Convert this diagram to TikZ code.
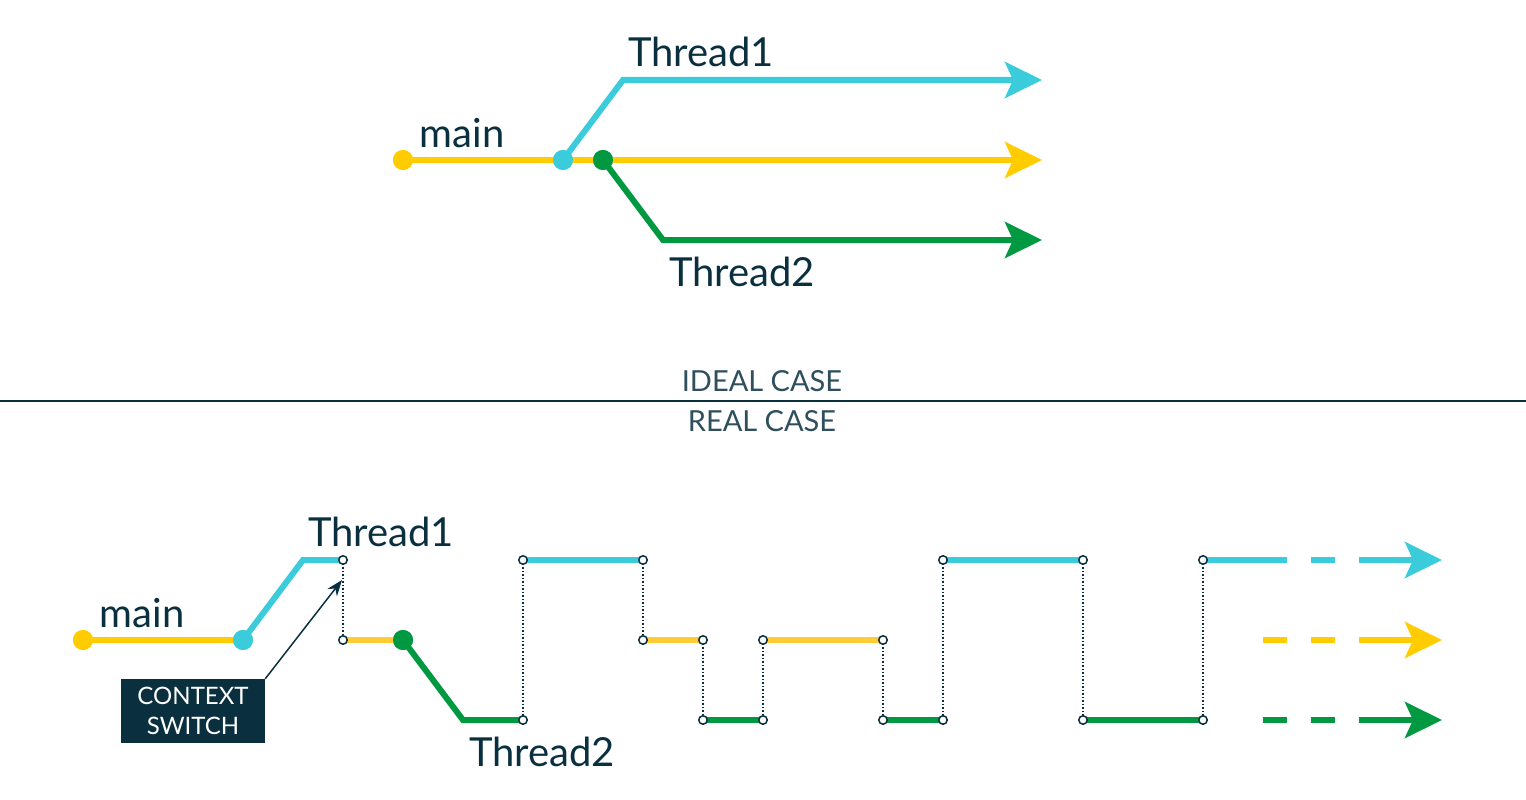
\documentclass[tikz,border=0pt]{standalone}
\usepackage{fontspec}
\setmainfont{Lato}
\usetikzlibrary{arrows.meta}
\definecolor{cy}{HTML}{3BCCDB}
\definecolor{ye}{HTML}{FFCC00}
\definecolor{yl}{HTML}{FFCC33}
\definecolor{gr}{HTML}{009942}
\definecolor{dk}{HTML}{0A3040}
\begin{document}
\begin{tikzpicture}[x=1pt,y=-1pt,
 ln/.style={line width=6pt},
 ar/.style={ln,-{Triangle[width=36pt,length=37pt,inset=8pt]}},
 dot/.style={circle,inner sep=0pt,minimum size=20pt},
 sm/.style={circle,draw=dk,fill=white,line width=1.5pt,inner sep=0pt,minimum size=8.5pt},
 lab/.style={text=dk,font=\fontsize{40}{42}\selectfont,inner sep=0pt},
 casetxt/.style={text=dk!85,font=\fontsize{29}{30}\selectfont,inner sep=0pt},
 vd/.style={dk,line width=1.5pt,dotted}]
\useasboundingbox (0,0) rectangle (1526,800);
% ideal
\coordinate (m0) at (403,160);
\coordinate (me) at (1042,160);
\coordinate (t1a) at (623,80);
\coordinate (t1e) at (1042,80);
\coordinate (t2a) at (663,240);
\coordinate (t2e) at (1042,240);
\node[dot,fill=ye] (md) at (m0) {};
\node[dot,fill=cy] (cd) at (563,160) {};
\node[dot,fill=gr] (gd) at (603,160) {};
\draw[ar,ye] (md.center) -- (me);
\draw[ar,cy] (cd.center) -- (t1a) -- (t1e);
\draw[ar,gr] (gd.center) -- (t2a) -- (t2e);
\node[dot,fill=ye] at (m0) {};
\node[dot,fill=cy] at (563,160) {};
\node[dot,fill=gr] at (603,160) {};
\node[lab] at (701,52) {Thread1};
\node[lab] at (462,133) {main};
\node[lab] at (742,272) {Thread2};
% divider
\coordinate (dl) at (0,401); \coordinate (dr) at (1526,401);
\draw[dk,line width=1.5pt] (dl) -- (dr);
\node[casetxt] at (762,381) {IDEAL CASE};
\node[casetxt] at (762,421) {REAL CASE};
% real
\node[dot,fill=ye] (bm) at (83,640) {};
\node[dot,fill=cy] (bc) at (243,640) {};
\node[dot,fill=gr] (bg) at (403,640) {};
\coordinate (c1) at (303,560);
\coordinate (g1) at (463,720);
\foreach \n/\x/\y in {a/343/560,b/343/640,c/523/560,d/523/720,e/643/560,f/643/640,g/703/640,h/703/720,i/763/640,j/763/720,k/883/640,l/883/720,m/943/560,n/943/720,o/1083/560,p/1083/720,q/1203/560,r/1203/720}
  \coordinate (\n) at (\x,\y);
\draw[ln,ye] (bm.center) -- (bc.center);
\draw[ln,cy] (bc.center) -- (c1) -- (a);
\draw[ln,yl] (b) -- (bg.center);
\draw[ln,gr] (bg.center) -- (g1) -- (d);
\draw[ln,cy] (c) -- (e);
\draw[ln,yl] (f) -- (g);
\draw[ln,gr] (h) -- (j);
\draw[ln,yl] (i) -- (k);
\draw[ln,gr] (l) -- (n);
\draw[ln,cy] (m) -- (o);
\draw[ln,gr] (p) -- (r);
\coordinate (cs1) at (1287,560); \coordinate (cs2) at (1311,560); \coordinate (cs3) at (1335,560);
\coordinate (cs4) at (1359,560); \coordinate (ce) at (1442,560);
\draw[ln,cy] (q) -- (cs1); \draw[ln,cy] (cs2) -- (cs3); \draw[ar,cy] (cs4) -- (ce);
\coordinate (ys0) at (1263,640); \coordinate (ys1) at (1287,640); \coordinate (ys2) at (1311,640); \coordinate (ys3) at (1335,640);
\coordinate (ys4) at (1359,640); \coordinate (yend) at (1442,640);
\draw[ln,ye] (ys0) -- (ys1); \draw[ln,ye] (ys2) -- (ys3); \draw[ar,ye] (ys4) -- (yend);
\coordinate (gs0) at (1263,720); \coordinate (gs1) at (1287,720); \coordinate (gs2) at (1311,720); \coordinate (gs3) at (1335,720);
\coordinate (gs4) at (1359,720); \coordinate (ge) at (1442,720);
\draw[ln,gr] (gs0) -- (gs1); \draw[ln,gr] (gs2) -- (gs3); \draw[ar,gr] (gs4) -- (ge);
\node[dot,fill=ye] at (83,640) {};
\node[dot,fill=cy] at (243,640) {};
\node[dot,fill=gr] at (403,640) {};
\foreach \u/\v in {a/b,c/d,e/f,g/h,i/j,k/l,m/n,o/p,q/r} \draw[vd] (\u) -- (\v);
\foreach \n in {a,b,c,d,e,f,g,h,i,j,k,l,m,n,o,p,q,r} \node[sm] at (\n) {};
\node[lab] at (381,532) {Thread1};
\node[lab] at (142,613) {main};
\node[lab] at (542,752) {Thread2};
\node[fill=dk,text=white,minimum width=144pt,minimum height=64pt,inner sep=0pt,align=center,
  font=\fontsize{24}{30}\selectfont] (box) at (193,711) {CONTEXT\\SWITCH};
\coordinate (tip) at (342,580);
\draw[dk,line width=1.5pt,-{Stealth[length=16pt,width=12pt]}] (box.north east) -- (tip);
\end{tikzpicture}
\end{document}
